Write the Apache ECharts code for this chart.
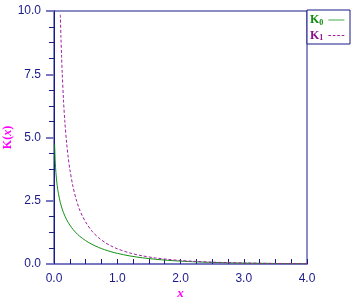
<!DOCTYPE html>
<html><head><meta charset="utf-8">
<script src="https://cdn.jsdelivr.net/npm/echarts@6/dist/echarts.min.js"></script>
<style>html,body{margin:0;padding:0;background:#fff}#c{width:353px;height:301px}</style>
</head><body><div id="c"></div>
<script>
const xK0 = [0.01,0.02,0.03,0.05,0.07,0.1,0.12,0.15,0.2,0.25,0.3,0.35,0.4,0.5,0.6,0.7,0.8,0.9,1.0,1.2,1.4,1.6,1.8,2.0,2.25,2.5,2.75,3.0,3.5,4.0];
const k0 = [4.72,4.03,3.62,3.11,2.78,2.43,2.25,2.03,1.75,1.54,1.37,1.23,1.11,0.924,0.778,0.661,0.565,0.487,0.421,0.319,0.244,0.188,0.146,0.114,0.084,0.062,0.047,0.035,0.020,0.011];
const xK1 = [0.1,0.11,0.12,0.13,0.15,0.17,0.2,0.225,0.25,0.3,0.35,0.4,0.45,0.5,0.6,0.7,0.8,0.9,1.0,1.2,1.4,1.6,1.8,2.0,2.25,2.5,2.75,3.0,3.5,4.0];
const k1 = [9.85,8.95,8.19,7.55,6.48,5.67,4.78,4.21,3.75,3.06,2.56,2.18,1.89,1.66,1.30,1.05,0.862,0.717,0.602,0.435,0.321,0.241,0.183,0.140,0.101,0.074,0.054,0.040,0.022,0.013];
const xTicks = {min:0, max:4, interval:1};
const yTicks = {min:0, max:10, interval:2.5};
const names = ['K0','K1'];

const navy = '#1a1a8a', lav = '#7878c0';
const solidIcon = 'path://M0,0H20V1H0Z';
const dashIcon = 'path://M0,0H3V1H0Z M5,0H8V1H5Z M10,0H13V1H10Z M15,0H18V1H15Z';
const chart = echarts.init(document.getElementById('c'));
chart.setOption({
  animation:false,
  grid:{left:54, top:11, right:46, bottom:37, show:true, borderColor:navy, borderWidth:1, outerBoundsMode:'none', containLabel:false},
  graphic:[{type:'rect', shape:{x:307, y:10, width:43, height:34}, style:{fill:'#fff', stroke:navy, lineWidth:1}, z:100}],
  legend:{
    data:[{name:names[0], icon:solidIcon},{name:names[1], icon:dashIcon}],
    orient:'vertical', left:308, top:11, align:'right', itemGap:3,
    itemWidth:16, itemHeight:1, padding:[3,2,2,2], z:101,
    formatter: n => n==='K0' ? '{g|K}{gs|0}' : '{p|K}{ps|1}',
    textStyle:{rich:{
      g:{color:'#108a10', fontFamily:'Liberation Serif', fontSize:12, fontWeight:'bold'},
      gs:{color:'#108a10', fontFamily:'Liberation Serif', fontSize:8, fontWeight:'bold', padding:[5,0,0,0]},
      p:{color:'#8a108a', fontFamily:'Liberation Serif', fontSize:12, fontWeight:'bold'},
      ps:{color:'#8a108a', fontFamily:'Liberation Serif', fontSize:8, fontWeight:'bold', padding:[5,0,0,0]}
    }}
  },
  xAxis:{type:'value', min:xTicks.min, max:xTicks.max, interval:xTicks.interval,
    axisLine:{lineStyle:{color:lav, width:2}},
    axisTick:{inside:true, length:5, lineStyle:{color:navy}},
    minorTick:{show:true, splitNumber:4, length:5, lineStyle:{color:navy}},
    splitLine:{show:false},
    axisLabel:{color:navy, fontFamily:'Liberation Sans', fontSize:12, margin:9, formatter:v=>v.toFixed(1)},
    name:'x', nameLocation:'middle', nameGap:23, nameMoveOverlap:false,
    nameTextStyle:{color:'#ff00ff', fontFamily:'Liberation Serif', fontStyle:'italic', fontWeight:'bold', fontSize:13}
  },
  yAxis:{type:'value', min:yTicks.min, max:yTicks.max, interval:yTicks.interval,
    axisLine:{show:true, lineStyle:{color:navy, width:1}},
    axisTick:{show:true, length:8, lineStyle:{color:lav, width:2}},
    minorTick:{show:true, splitNumber:4, length:5, lineStyle:{color:navy}},
    splitLine:{show:false},
    axisLabel:{color:navy, fontFamily:'Liberation Sans', fontSize:12, margin:13, formatter:v=>v.toFixed(1)},
    name:'K({i|x})', nameLocation:'middle', nameGap:40, nameMoveOverlap:false,
    nameTextStyle:{color:'#ff00ff', fontFamily:'Liberation Serif', fontWeight:'bold', fontSize:12,
      rich:{i:{color:'#ff00ff', fontFamily:'Liberation Serif', fontStyle:'italic', fontWeight:'bold', fontSize:12}}}
  },
  series:[
    {name:'K0', type:'line', data:xK0.map((x,i)=>[x,k0[i]]), showSymbol:false, symbol:'none', smooth:0.3, clip:true,
     lineStyle:{color:'#159015', width:1}, itemStyle:{color:'#159015'}},
    {name:'K1', type:'line', data:xK1.map((x,i)=>[x,k1[i]]), showSymbol:false, symbol:'none', smooth:0.3, clip:true,
     lineStyle:{color:'#a020a0', width:1, type:[3,2]}, itemStyle:{color:'#a020a0'}}
  ]
});
</script></body></html>
